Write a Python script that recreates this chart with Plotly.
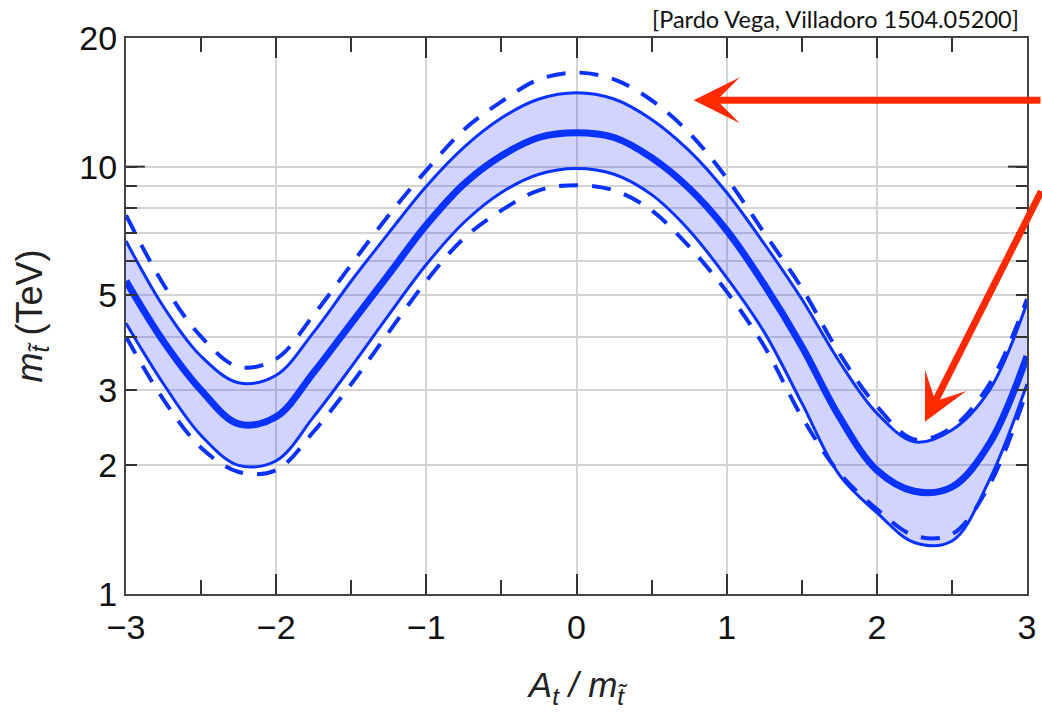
import plotly.graph_objects as go
import math

# ---------------- data ----------------
x_vals = [-3.0, -2.75, -2.5, -2.25, -2.0, -1.75, -1.5, -1.25, -1.0, -0.75, -0.5, -0.25,
          0.0, 0.25, 0.5, 0.75, 1.0, 1.25, 1.5, 1.75, 2.0, 2.25, 2.5, 2.75, 3.0]

central = [5.4, 3.9, 3.0, 2.5, 2.6, 3.3, 4.3, 5.6, 7.3, 9.1, 10.6, 11.7,
           12.0, 11.7, 10.5, 8.9, 7.1, 5.3, 3.8, 2.6, 1.95, 1.74, 1.78, 2.25, 3.6]

upper_solid = [6.7, 4.7, 3.6, 3.12, 3.25, 4.1, 5.4, 7.0, 9.0, 11.1, 13.0, 14.4,
               14.9, 14.4, 12.9, 10.9, 8.7, 6.6, 4.9, 3.5, 2.65, 2.27, 2.42, 3.0, 4.8]

lower_solid = [4.3, 3.1, 2.35, 2.0, 2.05, 2.6, 3.4, 4.5, 5.9, 7.4, 8.7, 9.6,
               9.9, 9.6, 8.6, 7.1, 5.5, 4.1, 2.8, 1.9, 1.55, 1.32, 1.33, 1.85, 3.1]

upper_dashed = [7.7, 5.3, 4.0, 3.4, 3.55, 4.5, 5.9, 7.7, 9.8, 12.2, 14.2, 16.0,
                16.6, 16.0, 14.3, 12.0, 9.4, 7.0, 5.2, 3.66, 2.75, 2.3, 2.45, 3.1, 4.9]

lower_dashed = [4.0, 2.85, 2.2, 1.93, 1.95, 2.4, 3.1, 4.1, 5.4, 6.8, 7.9, 8.8,
                9.05, 8.8, 7.9, 6.5, 5.1, 3.8, 2.6, 1.92, 1.58, 1.37, 1.38, 1.8, 3.0]

x_ticks = [-3, -2, -1, 0, 1, 2, 3]
x_minor = [-2.5, -1.5, -0.5, 0.5, 1.5, 2.5]
y_ticks = [1, 2, 3, 5, 10, 20]
y_ticktext = ["1", "2", "3", "5", "10", "20"]
y_minor = [4, 6, 7, 8, 9]

citation = "[Pardo Vega, Villadoro 1504.05200]"
arrow1_tip = (0.78, 14.3)
arrow2_tip = (2.32, 2.53)

# ---------------- style ----------------
BLUE = "#0a32ff"
FILL = "rgba(20,40,255,0.20)"
RED = "#ff2a00"
FONT = "Liberation Sans, Arial, sans-serif"

fig = go.Figure()

fig.add_trace(go.Scatter(x=x_vals, y=lower_solid, mode="lines",
                         line=dict(color=BLUE, width=3, shape="spline"),
                         showlegend=False, hoverinfo="skip"))
fig.add_trace(go.Scatter(x=x_vals, y=upper_solid, mode="lines", fill="tonexty",
                         fillcolor=FILL,
                         line=dict(color=BLUE, width=3, shape="spline"),
                         showlegend=False, hoverinfo="skip"))
fig.add_trace(go.Scatter(x=x_vals, y=upper_dashed, mode="lines",
                         line=dict(color=BLUE, width=4, shape="spline", dash="19px,14px"),
                         showlegend=False, hoverinfo="skip"))
fig.add_trace(go.Scatter(x=x_vals, y=lower_dashed, mode="lines",
                         line=dict(color=BLUE, width=4, shape="spline", dash="19px,14px"),
                         showlegend=False, hoverinfo="skip"))
fig.add_trace(go.Scatter(x=x_vals, y=central, mode="lines",
                         line=dict(color=BLUE, width=7, shape="spline"),
                         showlegend=False, hoverinfo="skip"))

fig.update_xaxes(
    range=[-3, 3], tickvals=x_ticks, automargin=False,
    ticks="inside", ticklen=20, tickwidth=2, tickcolor="#333333",
    showline=True, linecolor="#444444", linewidth=2, mirror="ticks",
    showgrid=True, gridcolor="#d4d4d4", gridwidth=1.5,
    zeroline=False,
    tickfont=dict(family=FONT, size=34, color="#111111"),
    ticklabelstandoff=2,
    minor=dict(tickvals=x_minor, ticks="inside", ticklen=14, tickwidth=2,
               tickcolor="#333333", showgrid=False),
    title=dict(text="<i>A</i><sub><i>t</i></sub><i> /</i> <i>m</i><sub><i>t̃</i></sub>",
               font=dict(family=FONT, size=35, color="#222222"), standoff=28),
)
fig.update_yaxes(
    type="log", range=[0, math.log10(20)], tickvals=y_ticks, ticktext=y_ticktext,
    automargin=False,
    ticks="inside", ticklen=11, tickwidth=2, tickcolor="#333333",
    showline=True, linecolor="#444444", linewidth=2, mirror="ticks",
    showgrid=True, gridcolor="#d4d4d4", gridwidth=1.5,
    zeroline=False,
    tickfont=dict(family=FONT, size=34, color="#111111"),
    minor=dict(tickvals=y_minor, ticks="inside", ticklen=11, tickwidth=2,
               tickcolor="#333333", showgrid=True, gridcolor="#d4d4d4", gridwidth=1.5),
    title=dict(text="<i>m</i><sub><i>t̃</i></sub> (TeV)",
               font=dict(family=FONT, size=36, color="#222222"), standoff=26),
)

# longer decade ticks at 10 (left and right)
for x0, x1 in [(0, 0.021), (0.979, 1)]:
    fig.add_shape(type="line", xref="x domain", yref="y", x0=x0, x1=x1,
                  y0=10, y1=10, line=dict(color="#333333", width=2))

fig.add_annotation(text=citation, xref="paper", yref="paper", x=0.9935, y=1.034,
                   xanchor="right", yanchor="middle", showarrow=False,
                   font=dict(family="Lato, Open Sans, sans-serif", size=23.5, color="#111111"))

fig.add_annotation(x=arrow1_tip[0], y=math.log10(arrow1_tip[1]), xref="x", yref="y",
                   text="", showarrow=True, arrowhead=3, arrowsize=1.1, arrowwidth=7,
                   arrowcolor=RED, ax=360, ay=0)
fig.add_annotation(x=arrow2_tip[0], y=math.log10(arrow2_tip[1]), xref="x", yref="y",
                   text="", showarrow=True, arrowhead=3, arrowsize=1.1, arrowwidth=7,
                   arrowcolor=RED, ax=124, ay=-232)

fig.update_layout(
    width=1042, height=716,
    margin=dict(l=126, r=15, t=38, b=122),
    paper_bgcolor="white", plot_bgcolor="white",
)

fig.write_html("out.html")
